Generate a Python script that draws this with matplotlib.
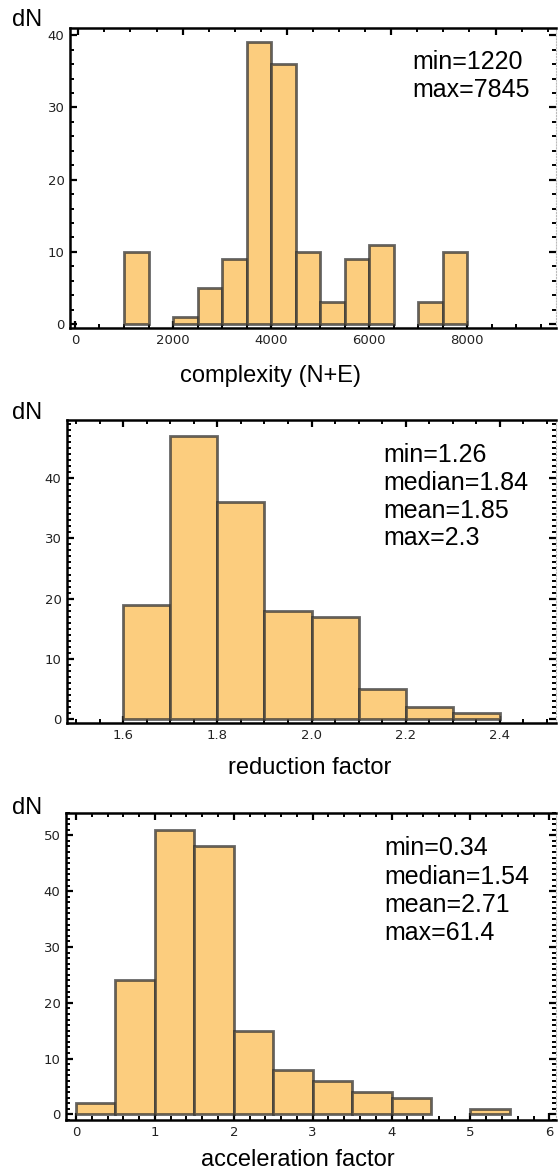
import matplotlib
matplotlib.use("Agg")
import matplotlib.pyplot as plt
from matplotlib.ticker import MultipleLocator
import numpy as np

# ---- data ----
complexity_edges = [1000, 1500, 2000, 2500, 3000, 3500, 4000, 4500, 5000, 5500, 6000, 6500, 7000, 7500, 8000]
complexity_counts = [10, 0, 1, 5, 9, 39, 36, 10, 3, 9, 11, 0, 3, 10]
complexity_stats = ["min=1220", "max=7845"]

reduction_edges = [1.6, 1.7, 1.8, 1.9, 2.0, 2.1, 2.2, 2.3, 2.4]
reduction_counts = [19, 47, 36, 18, 17, 5, 2, 1]
reduction_stats = ["min=1.26", "median=1.84", "mean=1.85", "max=2.3"]

accel_edges = [0.0, 0.5, 1.0, 1.5, 2.0, 2.5, 3.0, 3.5, 4.0, 4.5, 5.0, 5.5]
accel_counts = [2, 24, 51, 48, 15, 8, 6, 4, 3, 0, 1]
accel_stats = ["min=0.34", "median=1.54", "mean=2.71", "max=61.4"]

xlabels = ["complexity (N+E)", "reduction factor", "acceleration factor"]

W, H = 558, 1174
fig = plt.figure(figsize=(W / 100, H / 100), dpi=100)

FACE = "#fccd7e"
EDGE = (0.2, 0.2, 0.2, 0.75)
LABEL_FONT = "Liberation Sans"


def px_axes(left, top, right, bottom):
    return fig.add_axes([left / W, 1 - bottom / H, (right - left) / W, (bottom - top) / H])


def style_axes(ax, xmaj, xmin, ymaj, ymin):
    for side in ("left", "top", "bottom"):
        ax.spines[side].set_linewidth(1.8)
        ax.spines[side].set_color("black")
    ax.spines["right"].set_color("#bbbbbb")
    ax.spines["right"].set_linestyle(":")
    ax.spines["right"].set_linewidth(0.8)
    ax.xaxis.set_major_locator(MultipleLocator(xmaj))
    ax.xaxis.set_minor_locator(MultipleLocator(xmin))
    ax.yaxis.set_major_locator(MultipleLocator(ymaj))
    ax.yaxis.set_minor_locator(MultipleLocator(ymin))
    ax.tick_params(which="both", direction="in", top=True, right=True,
                   colors="black", labelcolor="#222222", labelsize=9.5)
    ax.tick_params(which="major", length=5, width=1.6, pad=4)
    ax.tick_params(which="minor", length=2.8, width=1.4)


def draw_hist(ax, edges, counts):
    edges = np.asarray(edges, dtype=float)
    counts = np.asarray(counts, dtype=float)
    widths = np.diff(edges)
    keep = counts > 0
    ax.bar(edges[:-1][keep], counts[keep], width=widths[keep], align="edge",
           color=FACE, edgecolor=EDGE, linewidth=2.0, zorder=2)


def put_lines(lines, x, y0, step):
    for i, s in enumerate(lines):
        fig.text(x / W, 1 - (y0 + i * step) / H, s, ha="left", va="center",
                 fontsize=18, family=LABEL_FONT, color="black")


# ---- panel 1 ----
ax1 = px_axes(70, 28, 556, 328)
draw_hist(ax1, complexity_edges, complexity_counts)
ax1.set_xlim(-102, 9816)
ax1.set_ylim(-0.55, 41.0)
style_axes(ax1, 2000, 500, 10, 2)
ax1.tick_params(top=False, which="both")
top1 = ax1.twiny()
top1.set_xlim(-159, 9160)
top1.xaxis.set_major_locator(MultipleLocator(2000))
top1.xaxis.set_minor_locator(MultipleLocator(500))
top1.tick_params(which="both", direction="in", labeltop=False, colors="black")
top1.tick_params(which="major", length=5, width=1.6)
top1.tick_params(which="minor", length=2.8, width=1.4)
for s in top1.spines.values():
    s.set_visible(False)
put_lines(complexity_stats, 412, 62, 28)

# ---- panel 2 ----
ax2 = px_axes(67, 420, 556, 723)
draw_hist(ax2, reduction_edges, reduction_counts)
ax2.set_xlim(1.4809, 2.519)
ax2.set_ylim(-0.6, 49.6)
style_axes(ax2, 0.2, 0.05, 10, 1)
put_lines(reduction_stats, 383, 455, 27.8)

# ---- panel 3 ----
ax3 = px_axes(66, 813, 556, 1120)
draw_hist(ax3, accel_edges, accel_counts)
ax3.set_xlim(-0.127, 6.085)
ax3.set_ylim(-1.0, 54.0)
style_axes(ax3, 1, 0.2, 10, 1)
put_lines(accel_stats, 384, 848, 28.5)

# ---- dN and x labels ----
for y in (20, 413, 808):
    fig.text(12 / W, 1 - y / H, "dN", ha="left", va="center",
             fontsize=17, family=LABEL_FONT)
for lab, (x, y) in zip(xlabels, [(270, 376), (310, 768), (298, 1160)]):
    fig.text(x / W, 1 - y / H, lab, ha="center", va="center",
             fontsize=17, family=LABEL_FONT)

fig.savefig("out.png", dpi=100)
